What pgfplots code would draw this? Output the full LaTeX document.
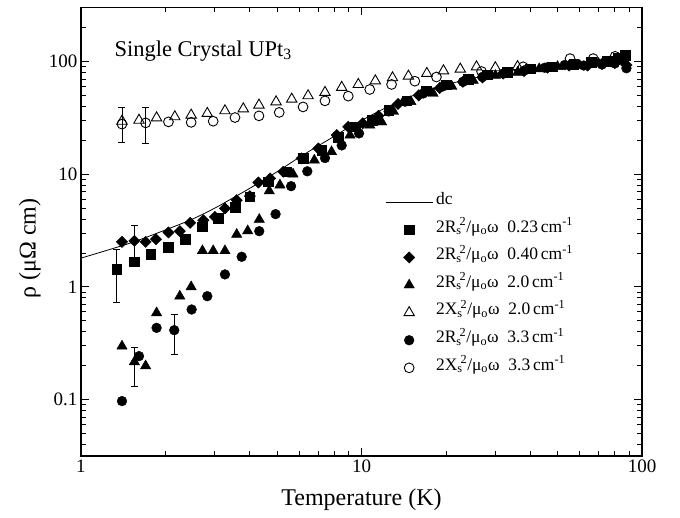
\documentclass[border=0pt]{standalone}
\usepackage{fontspec}
\setmainfont{Liberation Serif}
\usepackage{pgfplots}
\pgfplotsset{compat=1.18}
\newcommand{\legtxt}[1]{2#1\textsubscript{s}\kern-0.12em\textsuperscript{2}/μ\textsubscript{o}ω\ \ }
\newcommand{\cmi}{\,cm\textsuperscript{-1}}
\begin{document}
\begin{tikzpicture}
\path[use as bounding box] (-81pt,-62pt) rectangle (599pt,456pt);
\begin{axis}[
  at={(0pt,0pt)}, anchor=south west,
  width=561pt, height=448.5pt, scale only axis,
  xmode=log, ymode=log,
  xmin=1, xmax=100, ymin=0.0316, ymax=301,
  xtick={1,10,100}, xticklabels={1,10,100},
  ytick={0.1,1,10,100}, yticklabels={0.1,1,10,100},
  minor xtick={2,3,4,5,6,7,8,9,20,30,40,50,60,70,80,90},
  minor ytick={0.04,0.05,0.06,0.07,0.08,0.09,0.2,0.3,0.4,0.5,0.6,0.7,0.8,0.9,2,3,4,5,6,7,8,9,20,30,40,50,60,70,80,90,200,300},
  tick label style={font=\fontsize{19}{19}\selectfont},
  major tick length=8pt, minor tick length=5pt,
  tick style={black, line width=0.8pt},
  axis line style={line width=1.2pt},
  xlabel={Temperature (K)}, ylabel={ρ (μΩ cm)},
  label style={font=\fontsize{24}{24}\selectfont},
  x label style={at={(axis description cs:0.5,-0.098)}, anchor=center},
  y label style={at={(axis description cs:-0.091,0.463)}, anchor=center},
  legend image code/.code={\draw[mark repeat=2,mark phase=2,#1] plot coordinates {(0pt,0pt) (23.5pt,0pt) (47pt,0pt)};},
  legend style={at={(axis description cs:0.542,0.597)}, anchor=north west, draw=none, fill=none,
    font=\fontsize{17.5}{17.5}\selectfont, inner sep=0pt, row sep=0pt,
    nodes={inner sep=0pt, text height=16pt, text depth=11.6pt},
    /tikz/every odd column/.style={column sep=3pt}},
  legend cell align=left,
  clip=false,
]
% dc
\addplot[black, line width=0.8pt, smooth, mark=none] coordinates {
(1,1.8) (1.5,2.45) (2,3.2) (2.5,4.0) (3,5.0) (3.5,6.2) (4,7.5) (5,10.5) (6,14.1) (7,17.8) (8,21.7) (9,26) (10,30)
(12,38) (15,49) (20,62) (25,71) (30,78) (40,87) (50,93) (70,98) (90,101)};
\addlegendentry{dc}
% squares 0.23
\addplot[only marks, mark=square*, mark size=4.8pt, black] coordinates {
(1.34,1.44) (1.55,1.67) (1.77,1.95) (2.05,2.24) (2.35,2.65) (2.71,3.41) (3.09,4.05) (3.54,5.07) (4.00,6.3)
(4.65,8.55) (5.41,10.5) (6.19,13.8) (7.22,16.3) (8.27,21.4) (9.49,26.3) (10.9,30) (12.5,37) (14.5,45) (17,55)
(20,62) (24,70) (28,76) (33,80) (40,86) (48,90) (57,95) (66,98) (75,100) (82,108) (87,114)};
\addlegendentry{\legtxt{R}0.23\cmi}
% diamonds 0.40
\addplot[only marks, mark=square*, mark size=4pt, mark options={rotate=45}, black] coordinates {
(1.40,2.51) (1.55,2.56) (1.70,2.51) (1.85,2.65) (2.05,3.04) (2.25,3.12) (2.45,3.70) (2.73,3.9) (3.00,4.18)
(3.26,4.97) (3.59,5.88) (4.00,6.38) (4.29,8.44) (4.72,9.16) (5.26,10.5) (6.12,13.8) (7.02,16.9) (8.16,22.2)
(8.97,26.3) (10.1,28.3) (11.5,33) (13.5,42) (16,50) (19,58) (23,66) (27,72) (32,78) (38,82) (46,88) (55,92)
(64,92) (72,95) (80,97) (88,93)};
\addlegendentry{\legtxt{R}0.40\cmi}
% filled triangles 2.0
\addplot[only marks, mark=triangle*, mark size=6pt, black] coordinates {
(1.40,0.298) (1.55,0.216) (1.70,0.199) (1.86,0.588) (2.25,0.827) (2.47,1.0) (2.71,2.09) (2.96,2.09) (3.26,2.09)
(3.59,2.92) (3.93,3.14) (4.32,3.96) (4.69,7.1) (5.12,8.0) (5.7,10) (6.79,13.3) (7.82,15.8) (9.1,22.2) (10.7,27.2)
(11.8,29) (13,36) (15,44) (18,52) (21,60) (25,68) (30,75) (36,80) (43,86) (50,90) (60,92) (70,96) (85,100)};
\addlegendentry{\legtxt{R}2.0\cmi}
% open triangles 2.0
\addplot[only marks, mark=triangle, mark size=6pt, black, mark options={line width=0.9pt, fill=white}] coordinates {
(1.40,29.5) (1.61,30.1) (1.86,31.6) (2.16,32.3) (2.47,33.4) (2.82,34.6) (3.26,36.5) (3.79,38) (4.31,41)
(4.96,43.8) (5.64,46.3) (6.45,49.6) (7.41,53.1) (8.5,58.9) (9.74,62.5) (11.2,67.3) (12.9,71.6) (14.7,74.1)
(17.1,78.3) (19.6,82.6) (22.5,85.5) (25.7,89.6) (30,88) (36,90)};
\addlegendentry{\legtxt{X}2.0\cmi}
% filled circles 3.3
\addplot[only marks, mark=*, mark size=4.9pt, black] coordinates {
(1.40,0.097) (1.61,0.243) (1.86,0.433) (2.15,0.413) (2.48,0.63) (2.82,0.827) (3.26,1.29) (3.74,1.85) (4.32,3.12)
(4.94,4.42) (5.61,7.83) (6.41,10.6) (7.41,13.9) (8.5,18) (9.8,23) (11.2,30) (12.5,36) (14.3,44) (16.6,52)
(19.5,60) (23,66) (27,73) (32,78) (38,83) (45,88) (53,93) (62,92) (72,94) (80,96) (88,87)};
\addlegendentry{\legtxt{R}3.3\cmi}
% open circles 3.3
\addplot[only marks, mark=o, mark size=4.9pt, black, mark options={line width=0.9pt}] coordinates {
(1.40,27.8) (1.70,28.5) (2.05,29.1) (2.47,28.8) (2.96,29.5) (3.54,31.8) (4.31,32.9) (5.09,35.3) (6.19,39.5)
(7.41,44.7) (8.97,49.2) (10.7,56.4) (12.8,62.5) (15.5,66.8) (18.5,72.8) (26.8,81.4) (37.7,89.6) (55.4,106)
(67,106) (80.2,111)};
\addlegendentry{\legtxt{X}3.3\cmi}
% error bars
\addplot[forget plot, black, line width=0.8pt, mark=-, mark size=3.5pt] coordinates {(1.34,0.73) (1.34,2.15)};
\addplot[forget plot, black, line width=0.8pt, mark=-, mark size=3.5pt] coordinates {(1.55,1.75) (1.55,3.53)};
\addplot[forget plot, black, line width=0.8pt, mark=-, mark size=3.5pt] coordinates {(1.55,0.13) (1.55,0.29)};
\addplot[forget plot, black, line width=0.8pt, mark=-, mark size=3.5pt] coordinates {(2.15,0.25) (2.15,0.57)};
\addplot[forget plot, black, line width=0.8pt, mark=-, mark size=3.5pt] coordinates {(1.40,19.2) (1.40,39)};
\addplot[forget plot, black, line width=0.8pt, mark=-, mark size=3.5pt] coordinates {(1.70,18.7) (1.70,39)};
\node[anchor=base west, font=\fontsize{22.5}{22.5}\selectfont] at (axis description cs:0.0535,0.891) {Single Crystal UPt\textsubscript{3}};
\end{axis}
\end{tikzpicture}
\end{document}
